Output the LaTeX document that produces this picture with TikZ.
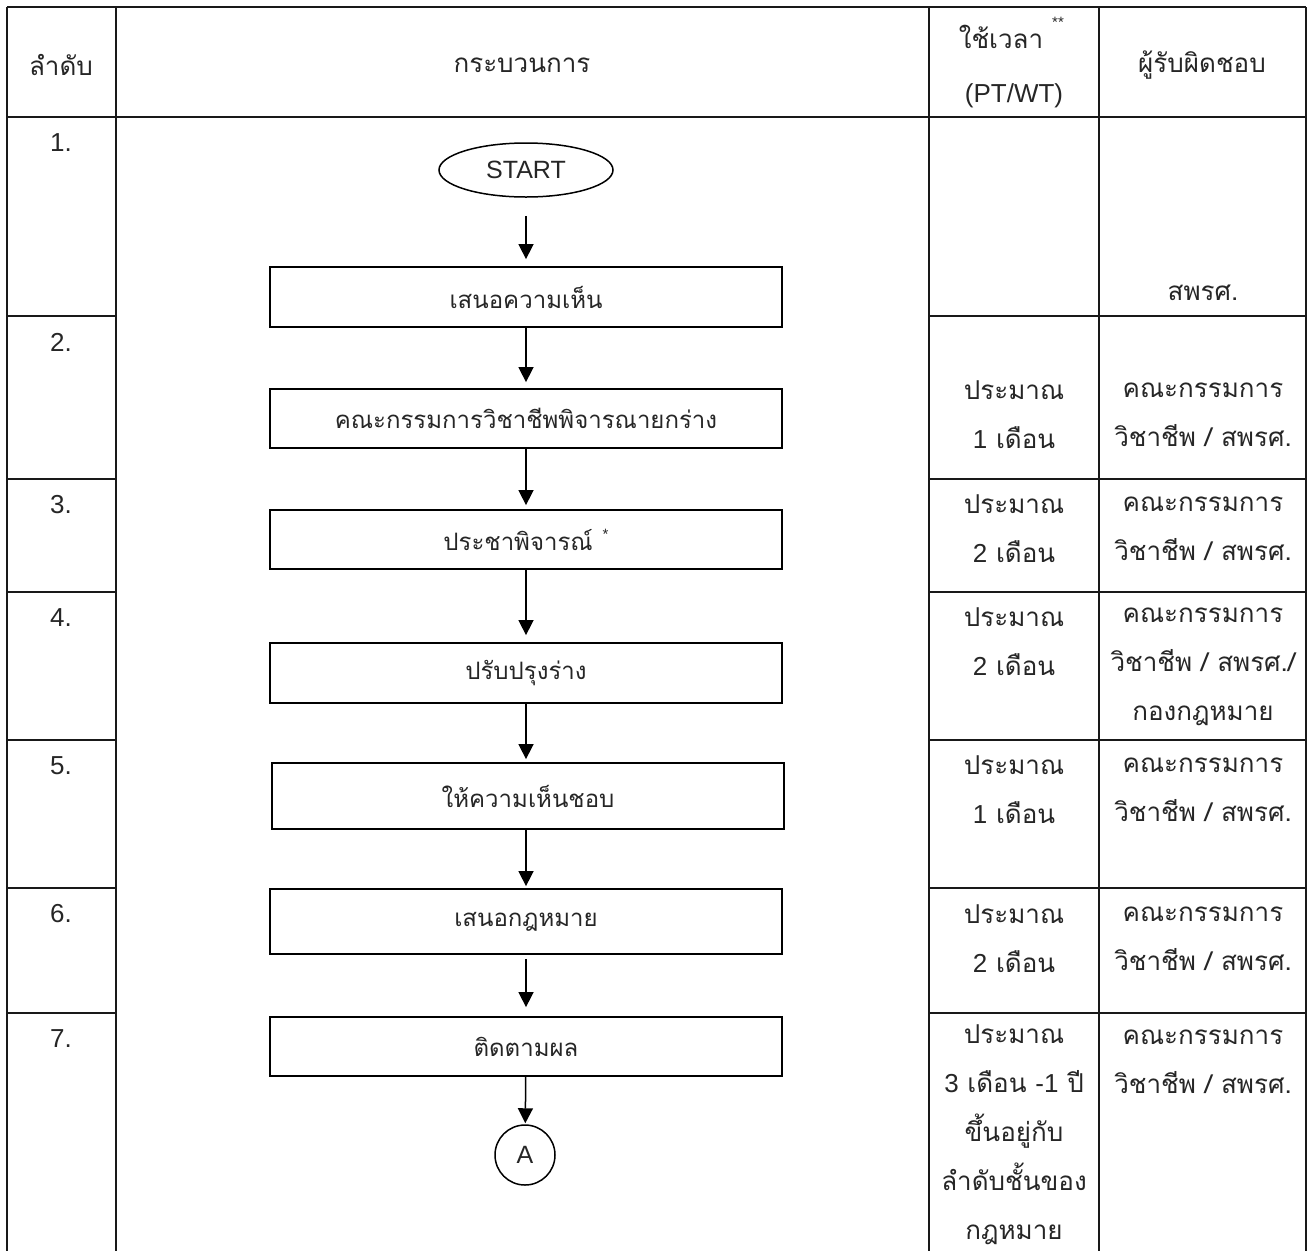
\documentclass[tikz,border=0pt]{standalone}
\usepackage{fontspec}
\setmainfont{Liberation Sans}
\newfontfamily\thaifont[Script=Thai]{Loma}
\usetikzlibrary{arrows.meta,shapes.geometric}
\newcommand\cellsize{\fontsize{26}{49}\selectfont}
\newcommand\boxsize{\fontsize{24}{30}\selectfont}
\begin{document}
\begin{tikzpicture}[x=1pt,y=-1pt,
  tline/.style={line width=2.4pt,black!90},
  rline/.style={line width=2pt,black!90},
  thtext/.style={font=\thaifont\cellsize,align=center,inner sep=0pt,text=black!85},
  lattext/.style={font=\cellsize,align=center,inner sep=0pt,text=black!85},
  procbox/.style={draw,line width=1.8pt,minimum width=512pt,inner sep=0pt,font=\thaifont\boxsize,text=black!85},
  flowarrow/.style={line width=1.5pt,-{Triangle[length=15pt,width=15pt]}}
]
\useasboundingbox (0,0) rectangle (1308,1251);
% table frame
\draw[tline] (7,7) -- (1306,7);
\draw[tline] (7,117) -- (1306,117);
\foreach \xx in {7,116,929,1099,1306} \draw[tline] (\xx,7) -- (\xx,1251);
\foreach \yy in {316,479,592,740,888,1013} {
  \draw[rline] (7,\yy) -- (116,\yy);
  \draw[rline] (929,\yy) -- (1306,\yy);
}
% header
\node[thtext] (h1) at (61,65) {ลำดับ};
\node[thtext] (h2) at (522,65) {กระบวนการ};
\node[thtext] (h3) at (1001,37) {ใช้เวลา};
\node[lattext,font=\fontsize{15}{15}\selectfont] (h3s) at (1058,22) {**};
\node[lattext] (h3b) at (1014,96) {(PT/WT)};
\node[thtext] (h4) at (1202,65) {ผู้รับผิดชอบ};
% row numbers
\node[lattext] (n1) at (61,143) {1.};
\node[lattext] (n2) at (61,342) {2.};
\node[lattext] (n3) at (61,505) {3.};
\node[lattext] (n4) at (61,618) {4.};
\node[lattext] (n5) at (61,766) {5.};
\node[lattext] (n6) at (61,914) {6.};
\node[lattext] (n7) at (61,1039) {7.};
% time column
\node[thtext] (t2) at (1014,415) {ประมาณ\\{\normalfont 1} เดือน};
\node[thtext] (t3) at (1014,529) {ประมาณ\\{\normalfont 2} เดือน};
\node[thtext] (t4) at (1014,642) {ประมาณ\\{\normalfont 2} เดือน};
\node[thtext] (t5) at (1014,790) {ประมาณ\\{\normalfont 1} เดือน};
\node[thtext] (t6) at (1014,939) {ประมาณ\\{\normalfont 2} เดือน};
\node[thtext] (t7) at (1014,1135) {ประมาณ\\{\normalfont 3} เดือน {\normalfont -1} ปี\\ขึ้นอยู่กับ\\ลำดับชั้นของ\\กฎหมาย};
% responsible column
\node[thtext] (r1) at (1203,293) {สพรศ.};
\node[thtext] (r2) at (1203,415) {คณะกรรมการ\\วิชาชีพ / สพรศ.};
\node[thtext] (r3) at (1203,529) {คณะกรรมการ\\วิชาชีพ / สพรศ.};
\node[thtext] (r4) at (1203,667) {คณะกรรมการ\\วิชาชีพ / สพรศ./\\กองกฎหมาย};
\node[thtext] (r5) at (1203,790) {คณะกรรมการ\\วิชาชีพ / สพรศ.};
\node[thtext] (r6) at (1203,939) {คณะกรรมการ\\วิชาชีพ / สพรศ.};
\node[thtext] (r7) at (1203,1062) {คณะกรรมการ\\วิชาชีพ / สพรศ.};
% flowchart
\node[draw,ellipse,line width=1.5pt,minimum width=174pt,minimum height=54pt,inner sep=0pt,font=\fontsize{25}{25}\selectfont,text=black!85] (start) at (526,170) {START};
\node[procbox,minimum height=60pt] (b1) at (526,297) {เสนอความเห็น};
\node[procbox,minimum height=59pt] (b2) at (526,418.5) {คณะกรรมการวิชาชีพพิจารณายกร่าง};
\node[procbox,minimum height=59pt] (b3) at (526,539.5) {ประชาพิจารณ์\hspace{10pt}\raisebox{11pt}{\normalfont\fontsize{15}{15}\selectfont *}};
\node[procbox,minimum height=60pt] (b4) at (526,673) {ปรับปรุงร่าง};
\node[procbox,minimum height=66pt] (b5) at (528,796) {ให้ความเห็นชอบ};
\node[procbox,minimum height=65pt] (b6) at (526,921.5) {เสนอกฎหมาย};
\node[procbox,minimum height=59pt] (b7) at (526,1046.5) {ติดตามผล};
\node[draw,circle,line width=1.5pt,minimum size=60pt,inner sep=0pt,font=\fontsize{25}{25}\selectfont,text=black!85] (ca) at (525,1155) {A};
\draw[flowarrow,shorten <=18pt,shorten >=7pt] (start) -- (start |- b1.north);
\draw[flowarrow,shorten >=6pt] (b1) -- (b2);
\draw[flowarrow,shorten >=4pt] (b2) -- (b3);
\draw[flowarrow,shorten >=7pt] (b3) -- (b4);
\draw[flowarrow,shorten >=3pt] (b4.south) -- (b4.south |- b5.north);
\draw[flowarrow,shorten >=2pt] (b5.south -| b6) -- (b6);
\draw[flowarrow,shorten <=4pt,shorten >=9pt] (b6) -- (b7);
\draw[flowarrow,shorten >=1pt] (b7) -- (ca);
\end{tikzpicture}
\end{document}
